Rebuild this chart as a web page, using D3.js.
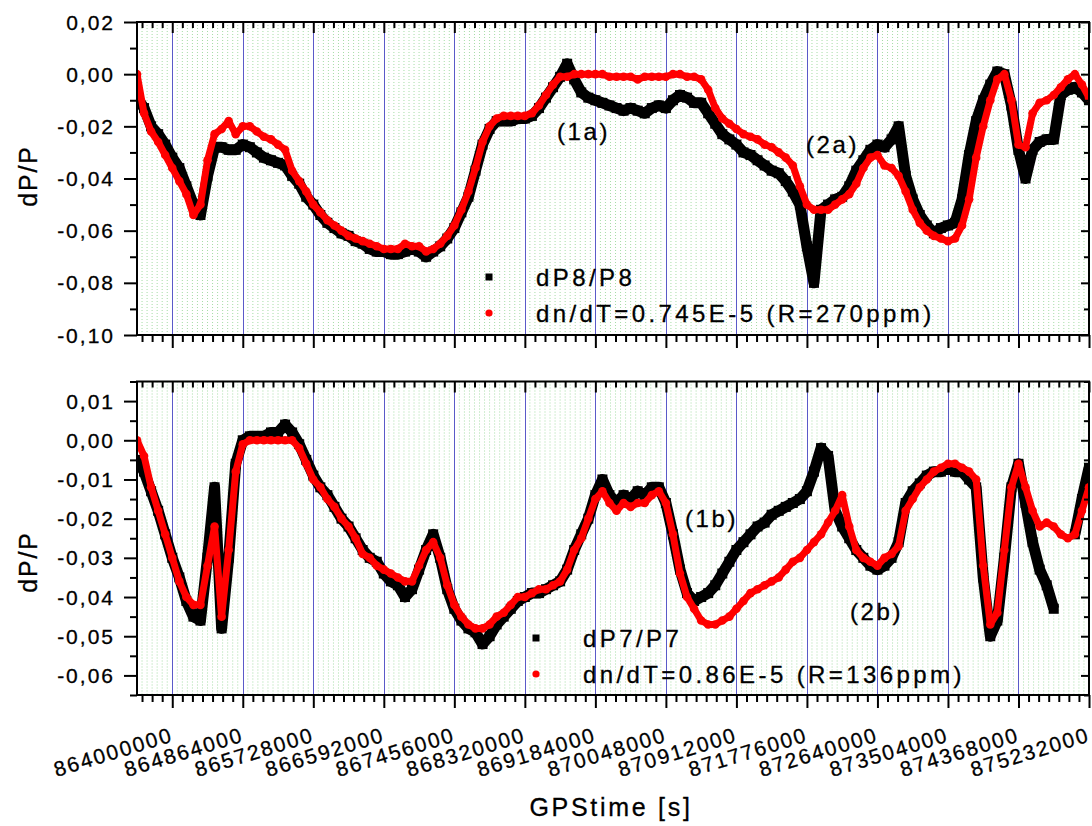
<!DOCTYPE html>
<html><head><meta charset="utf-8">
<script src="https://cdn.jsdelivr.net/npm/d3@7"></script>
<style>
body{margin:0;background:#fff}
svg{display:block}
text{font-family:"Liberation Sans",Arial,Helvetica,sans-serif;fill:#000;stroke:#000;stroke-width:0.3px}
</style></head><body>
<svg id="chart" width="1092" height="826"></svg>
<script>
// Daily readings (GPS seconds), one value per day
const tStart = 863568000, tStep = 86400, tEnd = 875232000;

const xTickLabels = ["864000000","864864000","865728000","866592000","867456000","868320000",
  "869184000","870048000","870912000","871776000","872640000","873504000","874368000","875232000"];
const topYTicks = [0.02, 0.00, -0.02, -0.04, -0.06, -0.08, -0.10];
const bottomYTicks = [0.01, 0.00, -0.01, -0.02, -0.03, -0.04, -0.05, -0.06];

const legendTop = ["dP8/P8", "dn/dT=0.745E-5 (R=270ppm)"];
const legendBottom = ["dP7/P7", "dn/dT=0.86E-5 (R=136ppm)"];

// Upper panel: measured dP8/P8 and the dn/dT model
const dP8 = [
 -0.009,-0.013,-0.020,-0.023,-0.027,-0.032,-0.036,-0.043,-0.050,-0.054,
 -0.039,-0.028,-0.028,-0.029,-0.029,-0.027,-0.028,-0.030,-0.032,-0.033,
 -0.034,-0.035,-0.039,-0.042,-0.047,-0.050,-0.054,-0.057,-0.059,-0.061,
 -0.062,-0.064,-0.065,-0.067,-0.068,-0.068,-0.069,-0.069,-0.068,-0.067,
 -0.068,-0.070,-0.068,-0.066,-0.063,-0.059,-0.053,-0.047,-0.037,-0.027,
 -0.021,-0.018,-0.018,-0.018,-0.017,-0.017,-0.016,-0.013,-0.009,-0.005,
 -0.001, 0.004,-0.002,-0.007,-0.009,-0.010,-0.011,-0.012,-0.013,-0.014,
 -0.013,-0.014,-0.015,-0.013,-0.012,-0.013,-0.010,-0.008,-0.009,-0.011,
 -0.011,-0.015,-0.019,-0.023,-0.025,-0.027,-0.030,-0.031,-0.033,-0.035,
 -0.037,-0.038,-0.041,-0.045,-0.050,-0.066,-0.080,-0.052,-0.050,-0.048,
 -0.047,-0.043,-0.037,-0.033,-0.029,-0.027,-0.028,-0.025,-0.020,-0.039,
 -0.048,-0.054,-0.058,-0.061,-0.059,-0.058,-0.057,-0.048,-0.031,-0.018,
 -0.010,-0.004, 0.001, 0.000,-0.012,-0.029,-0.040,-0.029,-0.026,-0.025,
 -0.025,-0.008,-0.006,-0.005,-0.007,-0.010];
const fit8 = [
  0.000,-0.015,-0.022,-0.026,-0.031,-0.036,-0.041,-0.046,-0.054,-0.050,
 -0.033,-0.023,-0.021,-0.018,-0.023,-0.020,-0.020,-0.022,-0.024,-0.025,
 -0.027,-0.029,-0.037,-0.041,-0.045,-0.050,-0.053,-0.056,-0.058,-0.060,
 -0.062,-0.063,-0.064,-0.065,-0.066,-0.067,-0.067,-0.067,-0.065,-0.066,
 -0.066,-0.068,-0.067,-0.065,-0.062,-0.058,-0.052,-0.045,-0.036,-0.026,
 -0.020,-0.017,-0.016,-0.016,-0.016,-0.016,-0.015,-0.012,-0.008,-0.004,
 -0.001,-0.001, 0.000, 0.000, 0.000, 0.000, 0.000,-0.001,-0.001,-0.001,
 -0.001,-0.002,-0.001,-0.001,-0.001,-0.001, 0.000, 0.000,-0.001,-0.001,
 -0.002,-0.006,-0.013,-0.017,-0.019,-0.021,-0.023,-0.024,-0.025,-0.027,
 -0.028,-0.030,-0.032,-0.035,-0.043,-0.050,-0.052,-0.052,-0.052,-0.050,
 -0.048,-0.046,-0.042,-0.036,-0.032,-0.031,-0.035,-0.036,-0.039,-0.045,
 -0.052,-0.057,-0.060,-0.062,-0.063,-0.064,-0.063,-0.058,-0.048,-0.032,
 -0.020,-0.010,-0.002, 0.000,-0.010,-0.027,-0.028,-0.015,-0.011,-0.010,
 -0.008,-0.005,-0.002, 0.000,-0.004,-0.009];

// Lower panel: measured dP7/P7 and the dn/dT model
const dP7 = [
 -0.005,-0.008,-0.013,-0.018,-0.024,-0.030,-0.035,-0.041,-0.045,-0.046,
 -0.030,-0.012,-0.048,-0.030,-0.006, 0.000, 0.001, 0.001, 0.001, 0.002,
  0.002, 0.004, 0.002,-0.001,-0.005,-0.009,-0.012,-0.014,-0.017,-0.020,
 -0.022,-0.025,-0.028,-0.030,-0.031,-0.034,-0.036,-0.037,-0.040,-0.038,
 -0.033,-0.028,-0.024,-0.030,-0.038,-0.043,-0.046,-0.048,-0.049,-0.052,
 -0.050,-0.047,-0.045,-0.043,-0.041,-0.040,-0.039,-0.039,-0.038,-0.037,
 -0.036,-0.033,-0.028,-0.024,-0.020,-0.014,-0.010,-0.014,-0.016,-0.014,
 -0.015,-0.013,-0.014,-0.012,-0.012,-0.016,-0.024,-0.033,-0.039,-0.041,
 -0.040,-0.039,-0.037,-0.034,-0.031,-0.028,-0.026,-0.024,-0.022,-0.021,
 -0.019,-0.018,-0.017,-0.016,-0.015,-0.013,-0.008,-0.002,-0.004,-0.018,
 -0.022,-0.025,-0.028,-0.030,-0.032,-0.033,-0.032,-0.030,-0.026,-0.016,
 -0.013,-0.011,-0.009,-0.008,-0.008,-0.007,-0.008,-0.008,-0.010,-0.012,
 -0.035,-0.050,-0.046,-0.030,-0.012,-0.006,-0.016,-0.026,-0.033,-0.037,
 -0.043, null, null,-0.024,-0.015,-0.007];
const fit7 = [
  0.000,-0.004,-0.012,-0.018,-0.024,-0.030,-0.036,-0.040,-0.042,-0.042,
 -0.032,-0.022,-0.045,-0.028,-0.008,-0.001, 0.000, 0.000, 0.000, 0.000,
  0.000, 0.000, 0.000,-0.002,-0.006,-0.010,-0.012,-0.015,-0.017,-0.020,
 -0.022,-0.025,-0.029,-0.030,-0.032,-0.033,-0.034,-0.035,-0.036,-0.036,
 -0.032,-0.028,-0.026,-0.030,-0.037,-0.042,-0.045,-0.047,-0.048,-0.048,
 -0.047,-0.045,-0.044,-0.042,-0.040,-0.040,-0.039,-0.038,-0.038,-0.037,
 -0.036,-0.033,-0.028,-0.025,-0.020,-0.015,-0.013,-0.016,-0.018,-0.016,
 -0.017,-0.016,-0.016,-0.014,-0.013,-0.016,-0.024,-0.034,-0.040,-0.043,
 -0.046,-0.047,-0.047,-0.046,-0.045,-0.043,-0.041,-0.039,-0.038,-0.037,
 -0.036,-0.035,-0.033,-0.031,-0.030,-0.028,-0.026,-0.024,-0.021,-0.018,
 -0.014,-0.022,-0.028,-0.030,-0.031,-0.032,-0.030,-0.029,-0.027,-0.018,
 -0.015,-0.012,-0.010,-0.008,-0.007,-0.006,-0.006,-0.007,-0.008,-0.010,
 -0.032,-0.047,-0.044,-0.028,-0.012,-0.006,-0.012,-0.018,-0.022,-0.021,
 -0.022,-0.024,-0.025,-0.024,-0.018,-0.012];

// Curve labels, anchored at (GPS time, dP/P)
const notesTop = [{t:"(1a)", x:868714000, y:-0.0254}, {t:"(2a)", x:871765000, y:-0.0304}];
const notesBottom = [{t:"(1b)", x:870282000, y:-0.0222}, {t:"(2b)", x:872304000, y:-0.0459}];

const svg = d3.select("#chart");

const x = d3.scaleLinear().domain([tStart, tEnd]).range([137, 1089]);
const xMajor = xTickLabels.map(Number);
const majorStep = 864000;
const xMinor = [], xDots = [];
for (let j = -7; j <= 13 * 7; j++) {
  const v = xMajor[0] + j * majorStep / 7;
  if (j % 7 !== 0 && v >= tStart && v <= tEnd) xMinor.push(v);
}
for (let j = -14; j <= 13 * 14; j++) {
  const v = xMajor[0] + j * majorStep / 14;
  if (j % 14 !== 0 && v > tStart && v < tEnd) xDots.push(v);
}

const fmt = v => (v < -1e-9 ? "-" : "") + Math.abs(v).toFixed(2).replace(".", ",");

function panel(cfg) {
  const {id, y, yMajor, yMinor, black, red, legend, legendAt, notes, ylabelY, showX} = cfg;
  const [y0, y1] = y.range();          // bottom, top pixel
  const g = svg.append("g");
  const x0 = x.range()[0], x1 = x.range()[1];

  svg.append("clipPath").attr("id", "clip" + id)
    .append("rect").attr("x", x0).attr("y", y1).attr("width", x1 - x0).attr("height", y0 - y1);

  // light green dotted grid
  g.append("g").selectAll("line").data(xDots).join("line")
    .attr("x1", d => x(d)).attr("x2", d => x(d)).attr("y1", y1).attr("y2", y0)
    .attr("stroke", "#a6dca6").attr("stroke-width", 1).attr("stroke-dasharray", "1,2");
  // blue major grid
  g.append("g").selectAll("line").data(xMajor.filter(v => x(v) < x1 - 2)).join("line")
    .attr("x1", d => Math.round(x(d)) + 0.5).attr("x2", d => Math.round(x(d)) + 0.5).attr("y1", y1).attr("y2", y0)
    .attr("stroke", "#5a5ac8").attr("stroke-width", 1);

  const times = black.map((_, i) => tStart + i * tStep);
  const dataB = black.map((v, i) => ({t: times[i], v}));
  const dataR = red.map((v, i) => ({t: times[i], v}));
  const plot = g.append("g").attr("clip-path", `url(#clip${id})`);
  const line = d3.line().defined(d => d.v !== null).x(d => x(d.t)).y(d => y(d.v));

  plot.append("path").datum(dataB).attr("d", line)
    .attr("fill", "none").attr("stroke", "#000").attr("stroke-width", 11).attr("stroke-linejoin", "round");
  plot.append("g").selectAll("rect").data(dataB.filter(d => d.v !== null)).join("rect")
    .attr("x", d => x(d.t) - 5).attr("y", d => y(d.v) - 5).attr("width", 10).attr("height", 10).attr("fill", "#000");
  plot.append("path").datum(dataR).attr("d", line)
    .attr("fill", "none").attr("stroke", "#f00").attr("stroke-width", 7).attr("stroke-linejoin", "round").attr("stroke-linecap", "round");
  plot.append("g").selectAll("circle").data(dataR.filter(d => d.v !== null)).join("circle")
    .attr("cx", d => x(d.t)).attr("cy", d => y(d.v)).attr("r", 4.3).attr("fill", "#f00");

  // axes
  const tickStyle = sel => { sel.select(".domain").remove(); sel.selectAll("line").attr("stroke-width", 2); sel.selectAll("text").remove(); };
  // bottom: outward
  g.append("g").attr("transform", `translate(0,${y0})`).call(d3.axisBottom(x).tickValues(xMajor).tickSize(13)).call(tickStyle);
  g.append("g").attr("transform", `translate(0,${y0})`).call(d3.axisBottom(x).tickValues(xMinor).tickSize(7)).call(tickStyle);
  // top: inward
  g.append("g").attr("transform", `translate(0,${y1})`).call(d3.axisBottom(x).tickValues(xMajor).tickSize(11)).call(tickStyle);
  g.append("g").attr("transform", `translate(0,${y1})`).call(d3.axisBottom(x).tickValues(xMinor).tickSize(6)).call(tickStyle);
  // left: outward
  g.append("g").attr("transform", `translate(${x0},0)`).call(d3.axisLeft(y).tickValues(yMajor).tickSize(13)).call(tickStyle);
  g.append("g").attr("transform", `translate(${x0},0)`).call(d3.axisLeft(y).tickValues(yMinor).tickSize(7)).call(tickStyle);
  // right: inward
  g.append("g").attr("transform", `translate(${x1},0)`).call(d3.axisLeft(y).tickValues(yMajor).tickSize(8)).call(tickStyle);
  g.append("g").attr("transform", `translate(${x1},0)`).call(d3.axisLeft(y).tickValues(yMinor).tickSize(5)).call(tickStyle);

  // frame
  g.append("rect").attr("x", x0).attr("y", y1).attr("width", x1 - x0).attr("height", y0 - y1)
    .attr("fill", "none").attr("stroke", "#000").attr("stroke-width", 2);

  // y tick labels
  g.append("g").selectAll("text").data(yMajor).join("text")
    .attr("x", 115).attr("y", d => y(d)).attr("dy", "0.36em")
    .attr("text-anchor", "end").attr("font-size", 21).attr("letter-spacing", 2)
    .text(fmt);

  // y title
  g.append("text").attr("transform", `translate(37,${ylabelY}) rotate(-90)`)
    .attr("text-anchor", "middle").attr("font-size", 25).attr("letter-spacing", 1.8).text("dP/P");

  // legend
  const [lx, ly] = legendAt;
  g.append("rect").attr("x", lx - 3.5).attr("y", ly - 3.5).attr("width", 7).attr("height", 7).attr("fill", "#000");
  g.append("circle").attr("cx", lx).attr("cy", ly + 36).attr("r", 3.6).attr("fill", "#f00");
  legend.forEach((s, i) => g.append("text").attr("x", lx + 47).attr("y", ly + 9 + i * 36)
    .attr("font-size", 24).attr("letter-spacing", 3.4).text(s));

  // curve labels
  notes.forEach(n => g.append("text").attr("x", x(n.x)).attr("y", y(n.y))
    .attr("font-size", 24).attr("letter-spacing", 2.6).text(n.t));

  if (showX) {
    g.append("g").selectAll("text").data(xMajor).join("text")
      .attr("transform", (d) => `translate(${x(d) + 2},741) rotate(-17)`)
      .attr("text-anchor", "end").attr("font-size", 21).attr("letter-spacing", 2)
      .text((d, i) => xTickLabels[i]);
    g.append("text").attr("x", 611).attr("y", 816).attr("text-anchor", "middle")
      .attr("font-size", 25).attr("letter-spacing", 2.7).text("GPStime [s]");
  }
}

const yTop = d3.scaleLinear().domain([-0.10, 0.02]).range([335, 22]);
const yBot = d3.scaleLinear().domain([-0.065, 0.015]).range([695, 381.5]);

const minorOf = (lo, hi, step, majors) => d3.range(Math.round((hi - lo) / step) + 1)
  .map(k => +(lo + k * step).toFixed(4))
  .filter(v => !majors.some(m => Math.abs(m - v) < 1e-6));

panel({id: "A", y: yTop, yMajor: topYTicks, yMinor: minorOf(-0.10, 0.02, 0.01, topYTicks),
  black: dP8, red: fit8, legend: legendTop, legendAt: [489, 277], notes: notesTop, ylabelY: 176, showX: false});
panel({id: "B", y: yBot, yMajor: bottomYTicks, yMinor: minorOf(-0.065, 0.015, 0.005, bottomYTicks),
  black: dP7, red: fit7, legend: legendBottom, legendAt: [536, 638], notes: notesBottom, ylabelY: 562, showX: true});
</script>
</body></html>
